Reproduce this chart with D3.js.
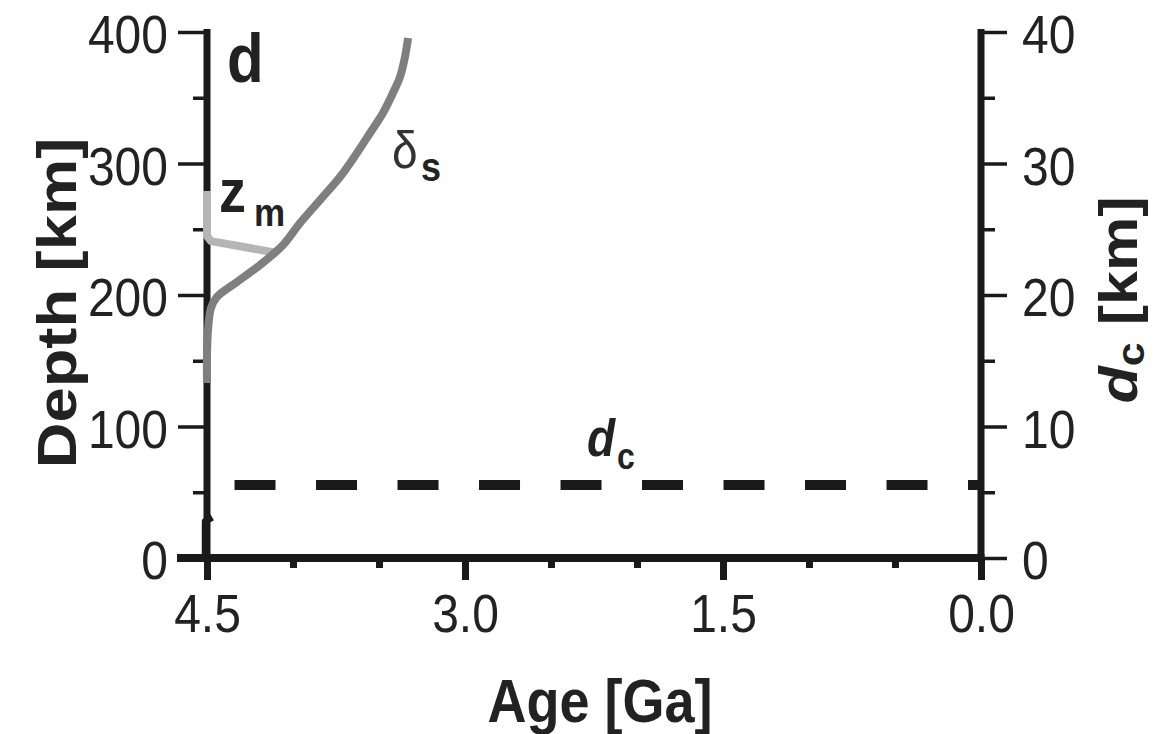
<!DOCTYPE html>
<html><head><meta charset="utf-8">
<script src="https://cdn.jsdelivr.net/npm/d3@7"></script>
<style>html,body{margin:0;padding:0;background:#fff;}svg{display:block;}</style>
</head><body>
<svg id="chart" width="1154" height="734"></svg>
<script>
// ---- data ----
const ageTicks = [4.5, 3.0, 1.5, 0.0];
const ageMinorTicks = [4.0, 3.5, 2.5, 2.0, 1.0, 0.5];
const depthTicks = [0, 100, 200, 300, 400];
const depthMinorTicks = [50, 150, 250, 350];
const dcTicks = [0, 10, 20, 30, 40];
const dcMinorTicks = [5, 15, 25, 35];

// delta_s depth in km vs age in Ga
const deltaAge   = [3.331, 3.349, 3.378, 3.419, 3.477, 3.552, 3.628, 3.727, 3.843, 3.959, 4.058, 4.192, 4.326, 4.442, 4.477, 4.494, 4.5, 4.5];
const deltaDepth = [395.4, 381.0, 365.8, 353.6, 338.4, 323.2, 308.0, 289.7, 272.2, 254.8, 238.0, 222.8, 209.9, 198.5, 190.1, 173.4, 154.4, 133.1];

// z_m (melting depth) in km
const zmAge   = [4.5, 4.5, 4.477, 4.093];
const zmDepth = [279, 245, 241, 232];

// d_c (crust thickness) in km, right axis
const dcEarlyAge = [4.51, 4.51, 4.47];
const dcEarlyKm  = [0.0, 2.8, 3.1];
const dcAge = [4.34, 0.0];
const dcKm  = [5.55, 5.55];

// ---- layout ----
const stretch = 1.13;
const svg = d3.select("#chart");
const x  = d3.scaleLinear().domain([4.5, 0]).range([207, 981]);
const y  = d3.scaleLinear().domain([0, 400]).range([558, 32]);
const yR = d3.scaleLinear().domain([0, 40]).range([558, 32]);
const axisColor = "#1a1a1a";
const textColor = "#222";
const font = "'Liberation Sans', Arial, Helvetica, sans-serif";

// left axis
const gL = svg.append("g").attr("transform", `translate(${x(4.5)},0)`);
gL.call(d3.axisLeft(y).tickValues(depthTicks).tickSize(29).tickPadding(10).tickFormat(d3.format("d")));
const gLm = svg.append("g").attr("transform", `translate(${x(4.5)},0)`);
gLm.call(d3.axisLeft(y).tickValues(depthMinorTicks).tickSize(14).tickFormat(""));

// right axis
const gR = svg.append("g").attr("transform", `translate(${x(0)},0)`);
gR.call(d3.axisRight(yR).tickValues(dcTicks).tickSize(26).tickPadding(15).tickFormat(d3.format("d")));
const gRm = svg.append("g").attr("transform", `translate(${x(0)},0)`);
gRm.call(d3.axisRight(yR).tickValues(dcMinorTicks).tickSize(14).tickFormat(""));

[gL, gLm, gR, gRm].forEach(g => {
  g.select(".domain").remove();
  g.selectAll(".tick line").attr("stroke", axisColor).attr("stroke-width", 3.5);
});

// bottom axis
const gB = svg.append("g").attr("transform", `translate(0,${y(0)})`);
gB.call(d3.axisBottom(x).tickValues(ageTicks).tickSize(22).tickFormat(d3.format(".1f")));
const gBm = svg.append("g").attr("transform", `translate(0,${y(0)})`);
gBm.call(d3.axisBottom(x).tickValues(ageMinorTicks).tickSize(10).tickFormat(""));
[gB, gBm].forEach(g => {
  g.select(".domain").remove();
  g.selectAll(".tick line").attr("stroke", axisColor).attr("stroke-width", 7);
});

// tick labels styling
gL.selectAll(".tick text").attr("font-family", font).attr("font-size", 48).attr("fill", textColor)
  .attr("dy", "0.38em").attr("transform", `scale(1,${stretch})`);
gR.selectAll(".tick text").attr("font-family", font).attr("font-size", 48).attr("fill", textColor)
  .attr("dy", "0.38em").attr("transform", `scale(1,${stretch})`);
gB.selectAll(".tick text").attr("font-family", font).attr("font-size", 48).attr("fill", textColor)
  .attr("y", 0).attr("dy", null).attr("transform", `translate(0,74) scale(1,${stretch})`);

// axis lines
svg.append("line").attr("x1", x(4.5)).attr("x2", x(4.5)).attr("y1", y(400) - 3).attr("y2", y(0))
  .attr("stroke", axisColor).attr("stroke-width", 7);
svg.append("line").attr("x1", x(0)).attr("x2", x(0)).attr("y1", y(400) - 3).attr("y2", y(0))
  .attr("stroke", axisColor).attr("stroke-width", 7);
svg.append("line").attr("x1", x(4.5) - 30).attr("x2", x(0) + 3.5).attr("y1", y(0)).attr("y2", y(0))
  .attr("stroke", axisColor).attr("stroke-width", 8);

// curves
const lineL = d3.line().x(d => x(d[0])).y(d => y(d[1])).curve(d3.curveCatmullRom.alpha(0.5));
const lineLin = d3.line().x(d => x(d[0])).y(d => y(d[1]));
const lineR = d3.line().x(d => x(d[0])).y(d => yR(d[1]));

svg.append("path").datum(zmAge.map((a, i) => [a, zmDepth[i]]))
  .attr("d", lineLin).attr("fill", "none").attr("stroke", "#b5b5b5").attr("stroke-width", 8)
  .attr("stroke-linejoin", "round");

svg.append("path").datum(deltaAge.map((a, i) => [a, deltaDepth[i]]))
  .attr("d", lineL).attr("fill", "none").attr("stroke", "#7f7f7f").attr("stroke-width", 8);

svg.append("path").datum(dcEarlyAge.map((a, i) => [a, dcEarlyKm[i]]))
  .attr("d", lineR).attr("fill", "none").attr("stroke", axisColor).attr("stroke-width", 7)
  .attr("stroke-linejoin", "round");

svg.append("path").datum(dcAge.map((a, i) => [a, dcKm[i]]))
  .attr("d", lineR).attr("fill", "none").attr("stroke", axisColor).attr("stroke-width", 10)
  .attr("stroke-dasharray", "41,40.5");

// text helper
function stext(px, py, size, weight, str, opts = {}) {
  return svg.append("text")
    .attr("transform", `translate(${px},${py}) scale(1,${stretch})`)
    .attr("font-family", font).attr("font-size", size).attr("font-weight", weight)
    .attr("fill", opts.fill || textColor).attr("text-anchor", opts.anchor || "start")
    .attr("font-style", opts.style || "normal").text(str);
}

// panel letter
stext(227, 82, 60, "bold", "d");
// z_m label
stext(219, 212, 54, "bold", "z");
stext(254, 226, 35, "bold", "m");
// delta_s label
stext(392, 168, 46, "normal", "δ", {fill: "#333"});
stext(421, 181, 36, "bold", "s");
// d_c label
stext(587, 456, 46, "bold", "d", {style: "italic"});
stext(617, 469, 32, "bold", "c");

// axis titles
stext(600, 722, 54, "bold", "Age [Ga]", {anchor: "middle"});

svg.append("text")
  .attr("transform", `translate(76,303) scale(1,${stretch}) rotate(-90)`)
  .attr("font-family", font).attr("font-size", 56).attr("font-weight", "bold")
  .attr("fill", textColor).attr("text-anchor", "middle").text("Depth [km]");

const tR = svg.append("text")
  .attr("transform", `translate(1137,300) scale(1,${stretch}) rotate(-90)`)
  .attr("font-family", font).attr("font-size", 54).attr("font-weight", "bold")
  .attr("fill", textColor).attr("text-anchor", "middle");
tR.append("tspan").attr("font-style", "italic").text("d");
tR.append("tspan").attr("font-size", 38).attr("dy", 7).text("c");
tR.append("tspan").attr("dy", -7).text(" [km]");
</script>
</body></html>
